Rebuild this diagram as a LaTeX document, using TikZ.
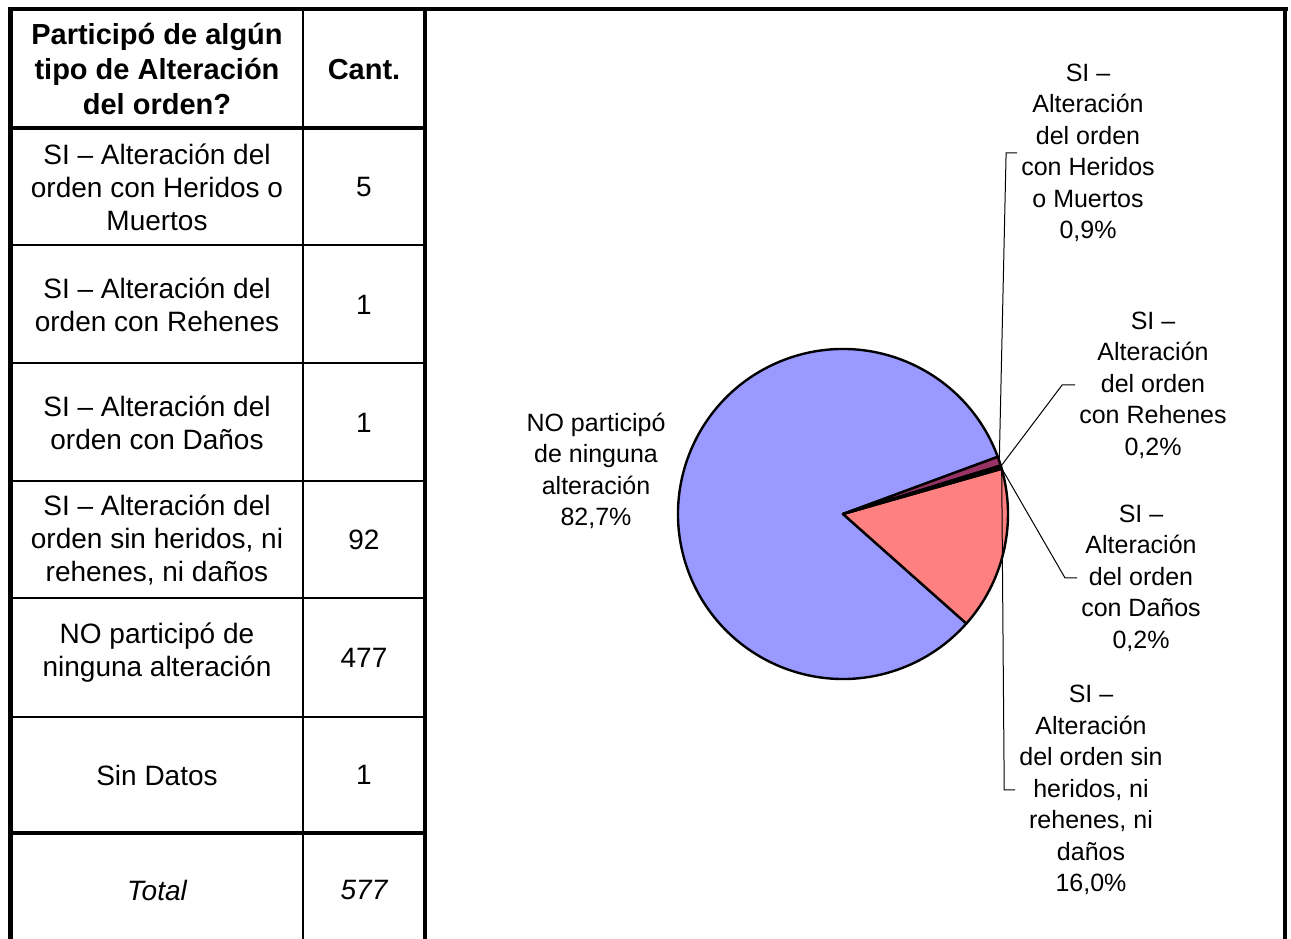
\documentclass[tikz,border=0pt]{standalone}
\usepackage{fontspec}
\setmainfont{Liberation Sans}
\usetikzlibrary{calc}
\definecolor{PieNo}{HTML}{9999FF}
\definecolor{PieHer}{HTML}{993366}
\definecolor{PieReh}{HTML}{FFFFCC}
\definecolor{PieDan}{HTML}{CCFFFF}
\definecolor{PieSin}{HTML}{FF8080}
\newcommand{\pieR}{165}
\tikzset{
  cell/.style={align=center,inner sep=0pt,font=\fontsize{28}{33}\selectfont},
  head/.style={cell,font=\fontsize{29}{35}\selectfont\bfseries},
  lab/.style={align=center,inner sep=4pt,font=\fontsize{25}{31.5}\selectfont},
  rule/.style={line width=2pt},
  frame/.style={line width=4.5pt},
  slice/.style={draw=black,line width=2.4pt,line join=round},
  lead/.style={line width=1pt},
}
\begin{document}
\begin{tikzpicture}[x=1pt,y=1pt]
  \fill[white] (0,0) rectangle (1291,939);
  \useasboundingbox (0,0) rectangle (1291,939);

  % --- table ---
  \node[head] (hdrQ) at (157,870) {Participó de algún\\tipo de Alteración\\del orden?};
  \node[head] (hdrN) at (364,869) {Cant.};

  \node[cell] (q1) at (157,752) {SI – Alteración del\\orden con Heridos o\\Muertos};
  \node[cell] (n1) at (364,752) {5};
  \node[cell] (q2) at (157,634) {SI – Alteración del\\orden con Rehenes};
  \node[cell] (n2) at (364,634) {1};
  \node[cell] (q3) at (157,516) {SI – Alteración del\\orden con Daños};
  \node[cell] (n3) at (364,516) {1};
  \node[cell] (q4) at (157,399) {SI – Alteración del\\orden sin heridos, ni\\rehenes, ni daños};
  \node[cell] (n4) at (364,399) {92};
  \node[cell] (q5) at (157,286) {NO participó de\\ninguna alteración};
  \node[cell] (n5) at (364,281) {477};
  \node[cell] (q6) at (157,164) {Sin Datos};
  \node[cell] (n6) at (364,164) {1};
  \node[cell] (qT) at (157,49) {\itshape Total};
  \node[cell] (nT) at (364,49) {\itshape 577};

  % rules of the table
  \draw[rule] (303,0) -- (303,930);
  \draw[rule] (10,694) -- (425,694);
  \draw[rule] (10,576) -- (425,576);
  \draw[rule] (10,458) -- (425,458);
  \draw[rule] (10,341) -- (425,341);
  \draw[rule] (10,222) -- (425,222);
  \draw[frame] (10,811) -- (425,811);
  \draw[frame] (10,106) -- (425,106);

  % outer frame
  \draw[frame] (10.5,0) -- (10.5,930);
  \draw[frame] (425,0) -- (425,930);
  \draw[frame] (1285,0) -- (1285,930);
  \draw[frame] (8.25,930) -- (1287.75,930);

  % --- pie ---
  \coordinate (pc) at (843,425);
  \filldraw[slice,fill=PieNo] (pc) -- ++(20.275:\pieR) arc[start angle=20.275,end angle=318.4,radius=\pieR] -- cycle;
  \filldraw[slice,fill=PieSin] (pc) -- ++(-41.6:\pieR) arc[start angle=-41.6,end angle=15.9,radius=\pieR] -- cycle;
  \filldraw[slice,fill=PieDan] (pc) -- ++(15.9:\pieR) arc[start angle=15.9,end angle=16.525,radius=\pieR] -- cycle;
  \filldraw[slice,fill=PieReh] (pc) -- ++(16.525:\pieR) arc[start angle=16.525,end angle=17.15,radius=\pieR] -- cycle;
  \filldraw[slice,fill=PieHer] (pc) -- ++(17.15:\pieR) arc[start angle=17.15,end angle=20.275,radius=\pieR] -- cycle;

  % labels of the slices
  \node[lab] (labHer) at (1088,786) {SI –\\Alteración\\del orden\\con Heridos\\o Muertos\\0,9\%};
  \node[lab] (labReh) at (1153,554) {SI –\\Alteración\\del orden\\con Rehenes\\0,2\%};
  \node[lab] (labDan) at (1141,361) {SI –\\Alteración\\del orden\\con Daños\\0,2\%};
  \node[lab] (labSin) at (1091,149) {SI –\\Alteración\\del orden sin\\heridos, ni\\rehenes, ni\\daños\\16,0\%};
  \node[lab] (labNo) at (596,468) {NO participó\\de ninguna\\alteración\\82,7\%};

  % leader lines
  \draw[lead] ($(pc)+(18.7:\pieR)$) -- ($(labHer.west)+(-11,0)$) -- (labHer.west);
  \draw[lead] ($(pc)+(16.84:\pieR)$) -- ($(labReh.west)+(-13,0)$) -- (labReh.west);
  \draw[lead] ($(pc)+(16.21:\pieR)$) -- ($(labDan.west)+(-12,0)$) -- (labDan.west);
  \draw[lead] ($(pc)+(15.9:\pieR)$) -- ($(labSin.west)+(-11,0)$) -- (labSin.west);
\end{tikzpicture}
\end{document}
